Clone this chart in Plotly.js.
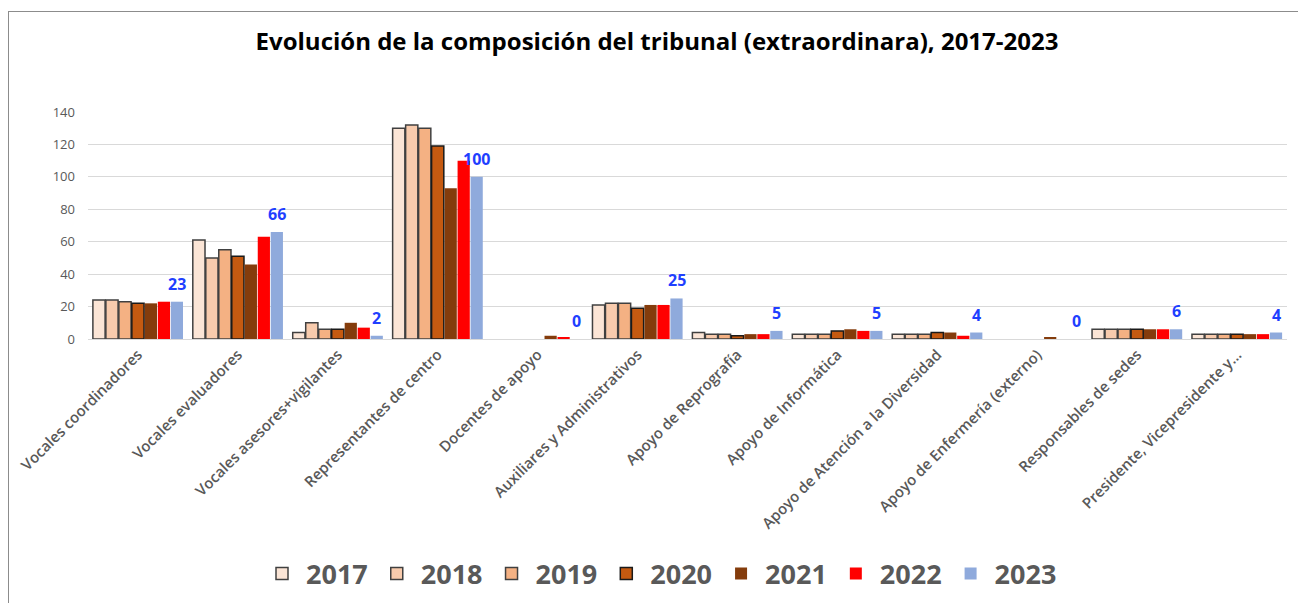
<!DOCTYPE html>
<html>
<head>
<meta charset="utf-8">
<script src="https://cdn.plot.ly/plotly-3.0.1.min.js"></script>
<style>
  html, body { margin: 0; padding: 0; background: #fff; }
  #wrap { position: relative; width: 1298px; height: 603px; overflow: hidden; }
  #chart { position: absolute; left: 0; top: 0; width: 1298px; height: 603px; }
  #frame { position: absolute; left: 8px; top: 11px; width: 1400px; height: 700px;
           border-top: 1px solid #8c8c8c; border-left: 1px solid #8c8c8c; pointer-events: none; }
</style>
</head>
<body>
<div id="wrap"><div id="chart"></div><div id="frame"></div></div>
<script>
const categories = [
  "Vocales coordinadores", "Vocales evaluadores", "Vocales asesores+vigilantes",
  "Representantes de centro", "Docentes de apoyo", "Auxiliares y Administrativos",
  "Apoyo de Reprografía", "Apoyo de Informática", "Apoyo de Atención a la Diversidad",
  "Apoyo de Enfermería (externo)", "Responsables de sedes", "Presidente, Vicepresidente y…"
];
const years = ["2017", "2018", "2019", "2020", "2021", "2022", "2023"];
const v2017 = [24, 61, 4, 130, 0, 21, 4, 3, 3, 0, 6, 3];
const v2018 = [24, 50, 10, 132, 0, 22, 3, 3, 3, 0, 6, 3];
const v2019 = [23, 55, 6, 130, 0, 22, 3, 3, 3, 0, 6, 3];
const v2020 = [22, 51, 6, 119, 0, 19, 2, 5, 4, 0, 6, 3];
const v2021 = [22, 46, 10, 93, 2, 21, 3, 6, 4, 1, 6, 3];
const v2022 = [23, 63, 7, 110, 1, 21, 3, 5, 2, 0, 6, 3];
const v2023 = [23, 66, 2, 100, 0, 25, 5, 5, 4, 0, 6, 4];
const yTicks = [0, 20, 40, 60, 80, 100, 120, 140];

const series = [v2017, v2018, v2019, v2020, v2021, v2022, v2023];
const fills = ["#FBE5D6", "#F8CBAD", "#F4B183", "#C55A11", "#843C0C", "#FF0000", "#8FAADC"];
const borders = ["#404040", "#404040", "#404040", "#1a1a1a", null, null, null];
const FONT = "'Open Sans', Lato, sans-serif";

const traces = series.map((vals, i) => ({
  type: "bar",
  name: years[i],
  x: categories,
  y: vals,
  marker: {
    color: fills[i],
    line: borders[i]
      ? { color: borders[i], width: vals.map(v => (v === 0 ? 0 : 1.5)) }
      : { width: 0 }
  },
  hoverinfo: "x+y+name",
  cliponaxis: false
}));

// data labels for the 2023 series (placed over the last bar of each group)
const labelAnnotations = categories.map((c, k) => ({
  x: c,
  y: v2023[k],
  xref: "x",
  yref: "y",
  text: "<b>" + v2023[k] + "</b>",
  showarrow: false,
  xanchor: "center",
  yanchor: "middle",
  xshift: 39,
  yshift: 18,
  font: { family: FONT, size: 16, color: "#1F3FFF" }
}));

const layout = {
  width: 1298,
  height: 603,
  paper_bgcolor: "#ffffff",
  plot_bgcolor: "#ffffff",
  margin: { l: 88, r: 11, t: 112, b: 264 },
  barmode: "group",
  bargap: 0.09,
  bargroupgap: 0.06,
  title: {
    text: "<b>Evolución de la composición del tribunal (extraordinara), 2017-2023</b>",
    font: { family: FONT, size: 24, color: "#000000" },
    x: 657 / 1298, xref: "container", xanchor: "center",
    y: 1 - 42 / 603, yref: "container", yanchor: "middle"
  },
  xaxis: {
    type: "category",
    tickangle: -45,
    tickfont: { family: FONT, size: 15, color: "#595959", weight: 600 },
    showgrid: false,
    showline: true,
    linecolor: "#d9d9d9",
    linewidth: 1,
    ticks: "",
    automargin: false
  },
  yaxis: {
    range: [0, 140],
    tickvals: yTicks,
    ticktext: yTicks.map(String),
    tickfont: { family: FONT, size: 13, color: "#595959" },
    showgrid: true,
    gridcolor: "#d9d9d9",
    gridwidth: 1,
    zeroline: false,
    showline: false,
    ticks: "",
    ticklabelstandoff: 12,
    automargin: false
  },
  annotations: labelAnnotations,
  showlegend: true,
  legend: {
    orientation: "h",
    xref: "container",
    x: 660 / 1298, xanchor: "center",
    yref: "container",
    y: 1 - 574 / 603, yanchor: "middle",
    font: { family: FONT, size: 27, color: "#595959", weight: 700 },
    itemwidth: 38,
    tracegroupgap: 0
  },
  hovermode: "closest"
};

Plotly.newPlot("chart", traces, layout, { displayModeBar: false, responsive: false });
</script>
</body>
</html>
